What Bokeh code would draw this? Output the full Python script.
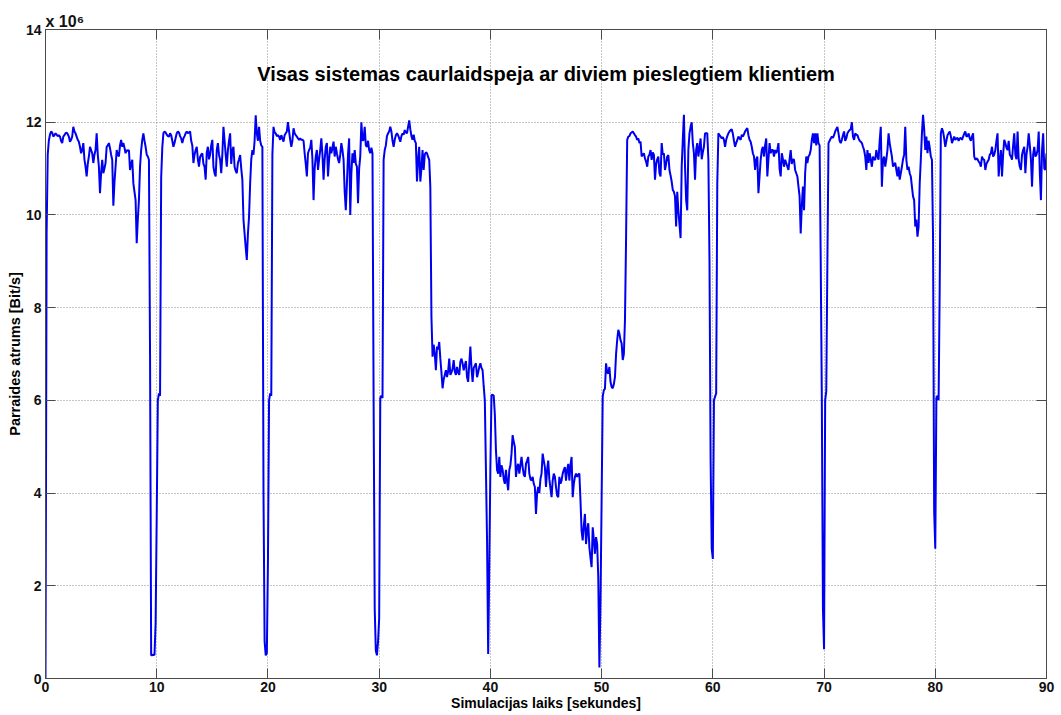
import numpy as np
from bokeh.plotting import figure
from bokeh.models import Range1d, LinearAxis, Label, FixedTicker, ColumnDataSource, Title
from bokeh.embed import file_html
from bokeh.resources import INLINE

# Aggregate throughput of the system, sampled every 0.1 s (values in units of 10^6 bit/s).
SAMPLE_PERIOD = 0.1

cycle_00 = [
    0.0, 9.6, 11.3, 11.6, 11.73, 11.8, 11.78, 11.69, 11.72, 11.76,
    11.73, 11.7, 11.72, 11.69, 11.6, 11.55, 11.69, 11.72, 11.76, 11.78,
    11.74, 11.69, 11.58, 11.62, 11.69, 11.9, 11.8, 11.76, 11.69, 11.62,
    11.58, 11.47, 11.33, 11.4, 11.55, 11.2, 11.04, 10.83, 11.1, 11.26,
    11.47, 11.4, 11.33, 11.12, 11.3, 11.4, 11.76, 11.3, 11.04, 10.47,
    10.9, 11.19, 10.9, 11.0, 11.12, 11.47, 11.5, 11.55, 11.44, 11.3,
    11.19, 10.2, 10.7, 11.04, 11.4, 11.3, 11.26, 11.5, 11.62, 11.47,
    11.55, 11.45, 11.33, 11.4, 11.38, 11.4, 10.97, 11.1, 11.19, 10.68,
    10.5, 10.32, 9.39, 9.9, 10.32, 11.04, 11.4, 11.62, 11.76, 11.6,
    11.47, 11.3, 11.26, 11.19, 7.0, 0.5, 0.5, 0.52, 0.5, 1.2,
]
cycle_10 = [
    3.5, 6.0, 6.15, 6.1, 10.8, 11.45, 11.76, 11.8, 11.78, 11.73,
    11.7, 11.69, 11.76, 11.72, 11.6, 11.47, 11.55, 11.66, 11.76, 11.8,
    11.78, 11.7, 11.65, 11.55, 11.65, 11.7, 11.76, 11.8, 11.76, 11.78,
    11.8, 11.6, 11.5, 11.12, 11.3, 11.4, 11.47, 11.2, 11.04, 11.25,
    11.3, 11.33, 11.1, 11.04, 10.76, 11.35, 11.47, 11.2, 11.3, 11.5,
    11.62, 11.04, 10.9, 10.83, 11.4, 11.55, 11.3, 11.19, 10.9, 11.3,
    11.9, 11.6, 11.3, 11.04, 11.4, 11.6, 11.76, 11.1, 11.4, 11.47,
    11.04, 10.95, 10.9, 11.12, 11.2, 11.29, 11.0, 10.76, 9.9, 9.6,
    9.3, 9.03, 9.6, 9.96, 10.68, 11.2, 11.4, 11.3, 11.6, 12.15,
    11.76, 11.6, 11.9, 11.6, 11.5, 11.47, 4.0, 0.8, 0.5, 0.55,
]
cycle_20 = [
    2.5, 6.0, 6.15, 6.1, 11.3, 11.9, 11.78, 11.76, 11.7, 11.72,
    11.69, 11.62, 11.72, 11.65, 11.58, 11.72, 11.76, 11.8, 12.0, 11.8,
    11.62, 11.47, 11.6, 11.87, 11.76, 11.72, 11.69, 11.65, 11.62, 11.65,
    11.62, 11.62, 11.6, 11.33, 11.1, 10.83, 11.33, 11.4, 11.45, 11.62,
    11.2, 10.32, 11.0, 11.26, 11.4, 10.97, 11.2, 11.4, 11.65, 11.3,
    10.76, 11.2, 11.47, 11.55, 10.83, 11.2, 11.47, 11.33, 11.45, 11.58,
    11.26, 11.47, 11.33, 11.2, 11.12, 11.3, 11.55, 11.4, 11.19, 10.5,
    10.1, 10.68, 11.3, 11.65, 10.0, 10.9, 11.33, 11.12, 11.4, 11.1,
    11.04, 10.25, 11.0, 11.26, 12.0, 11.6, 11.62, 11.9, 11.5, 11.47,
    11.6, 11.4, 11.33, 11.45, 11.33, 6.0, 1.5, 0.6, 0.5, 0.8,
]
cycle_30 = [
    1.3, 6.05, 6.1, 6.05, 11.19, 11.4, 11.5, 11.7, 11.76, 11.8,
    11.9, 11.8, 11.6, 11.47, 11.62, 11.72, 11.76, 11.72, 11.65, 11.58,
    11.7, 11.76, 11.73, 11.83, 11.78, 11.76, 11.9, 12.04, 11.85, 11.7,
    11.62, 11.73, 11.6, 11.55, 10.72, 11.2, 11.47, 10.72, 11.0, 11.4,
    10.97, 11.3, 11.35, 11.33, 11.25, 11.19, 10.6, 7.8, 6.94, 7.2,
    7.0, 6.65, 7.16, 7.1, 7.26, 6.9, 6.6, 6.26, 6.45, 6.55,
    6.65, 6.5, 6.62, 6.9, 6.55, 6.6, 6.68, 6.87, 6.62, 6.55,
    6.72, 6.6, 6.55, 6.83, 6.9, 6.8, 6.65, 6.75, 6.85, 6.5,
    6.4, 6.78, 7.16, 6.7, 6.4, 6.7, 6.75, 6.8, 6.5, 6.6,
    6.72, 6.8, 6.7, 6.65, 6.3, 6.0, 4.5, 2.98, 0.53, 2.4,
]
cycle_40 = [
    4.56, 6.11, 6.12, 6.1, 5.7, 4.92, 4.5, 4.42, 4.78, 4.35,
    4.6, 4.5, 4.3, 4.2, 4.5, 4.25, 4.06, 4.5, 4.6, 4.85,
    5.25, 5.1, 5.0, 4.35, 4.55, 4.63, 4.42, 4.6, 4.78, 4.56,
    4.4, 4.35, 4.63, 4.7, 4.78, 4.42, 4.3, 4.27, 4.35, 4.2,
    4.13, 3.55, 4.0, 4.13, 4.0, 4.3, 4.42, 4.85, 4.7, 4.56,
    4.13, 4.5, 4.7, 4.3, 4.1, 3.91, 4.27, 4.42, 4.35, 4.13,
    3.95, 3.91, 4.35, 4.2, 4.27, 4.42, 4.5, 4.56, 4.27, 4.5,
    4.63, 4.27, 4.6, 4.78, 3.91, 4.2, 4.35, 4.42, 4.35, 4.4,
    4.42, 3.84, 3.19, 2.98, 3.3, 3.55, 2.9, 3.2, 3.35, 2.83,
    2.6, 2.4, 3.26, 3.0, 2.69, 3.05, 2.9, 2.18, 0.24, 1.68,
]
cycle_50 = [
    3.84, 6.08, 6.22, 6.25, 6.8, 6.6, 6.58, 6.72, 6.4, 6.29,
    6.26, 6.35, 6.5, 7.0, 7.3, 7.52, 7.44, 7.3, 7.23, 6.87,
    7.0, 7.73, 9.5, 11.62, 11.69, 11.7, 11.76, 11.78, 11.8, 11.76,
    11.72, 11.69, 11.62, 11.65, 11.55, 11.58, 11.26, 11.3, 11.33, 11.22,
    11.15, 11.04, 11.26, 11.3, 11.4, 11.19, 11.35, 11.3, 10.76, 11.1,
    11.2, 11.26, 10.9, 10.83, 11.55, 11.3, 11.33, 10.97, 11.1, 11.26,
    11.29, 10.97, 10.85, 10.72, 10.54, 10.5, 10.4, 9.75, 10.5, 10.1,
    9.8, 9.5, 11.04, 11.62, 12.16, 11.04, 10.32, 10.1, 11.4, 11.76,
    11.9, 12.0, 11.55, 11.33, 10.76, 11.4, 11.55, 11.26, 11.45, 11.65,
    11.2, 11.35, 11.47, 11.76, 11.76, 11.76, 11.19, 9.0, 4.7, 2.8,
]
cycle_60 = [
    2.58, 6.0, 6.08, 6.15, 10.68, 11.76, 11.72, 11.69, 11.65, 11.68,
    11.62, 11.47, 11.62, 11.7, 11.76, 11.8, 11.83, 11.85, 11.75, 11.6,
    11.47, 11.55, 11.62, 11.69, 11.65, 11.62, 11.73, 11.69, 11.74, 11.8,
    11.84, 11.87, 11.72, 11.62, 11.58, 11.47, 11.33, 11.26, 10.97, 11.2,
    11.26, 10.47, 10.83, 11.19, 11.4, 11.47, 11.26, 11.5, 11.65, 10.83,
    11.2, 11.55, 11.33, 11.4, 11.4, 11.26, 11.4, 11.33, 11.4, 11.55,
    11.0, 10.83, 11.33, 11.2, 11.04, 11.19, 11.12, 11.04, 10.97, 11.2,
    11.4, 11.1, 11.2, 11.19, 10.97, 10.9, 10.83, 10.61, 10.4, 9.6,
    10.2, 10.61, 10.1, 10.9, 11.26, 11.12, 11.26, 11.3, 11.4, 11.62,
    11.76, 11.55, 11.76, 11.5, 11.76, 11.55, 11.5, 9.0, 6.0, 1.5,
]
cycle_70 = [
    0.63, 6.0, 6.2, 9.0, 11.55, 11.6, 11.65, 11.69, 11.66, 11.72,
    11.8, 11.85, 11.9, 11.76, 11.6, 11.55, 11.62, 11.72, 11.8, 11.6,
    11.65, 11.76, 11.8, 11.83, 11.85, 12.0, 11.69, 11.62, 11.76, 11.73,
    11.72, 11.65, 11.6, 11.58, 11.55, 11.47, 11.4, 11.26, 10.97, 11.4,
    11.12, 11.33, 11.19, 11.04, 11.26, 11.2, 11.19, 11.4, 11.26, 11.19,
    11.6, 11.9, 10.61, 11.19, 11.26, 11.04, 11.2, 11.4, 11.76, 11.55,
    11.4, 11.26, 11.04, 11.1, 11.12, 10.97, 10.83, 11.04, 10.76, 10.9,
    11.04, 11.2, 11.3, 11.9, 11.19, 10.97, 11.04, 10.9, 10.83, 10.61,
    10.4, 10.32, 9.75, 9.9, 9.53, 9.75, 10.68, 11.19, 11.76, 12.16,
    11.85, 11.4, 11.69, 11.33, 11.6, 11.45, 11.26, 11.19, 9.5, 3.6,
]
cycle_80 = [
    2.8, 6.05, 6.1, 6.0, 8.5, 11.76, 11.87, 11.8, 11.65, 11.47,
    11.6, 11.72, 11.76, 11.8, 11.7, 11.55, 11.62, 11.69, 11.62, 11.65,
    11.66, 11.6, 11.65, 11.66, 11.62, 11.69, 11.75, 11.8, 11.69, 11.7,
    11.76, 11.65, 11.6, 11.69, 11.76, 11.26, 11.19, 11.22, 11.2, 11.15,
    11.12, 11.04, 11.26, 11.2, 11.19, 10.97, 11.1, 11.15, 11.19, 11.3,
    11.33, 11.47, 11.26, 11.3, 11.4, 11.6, 11.76, 10.83, 11.2, 11.4,
    10.83, 11.3, 11.62, 11.55, 11.45, 11.4, 11.6, 11.3, 11.26, 11.19,
    11.5, 11.76, 11.3, 11.2, 11.8, 11.19, 11.04, 10.97, 11.3, 11.4,
    11.47, 10.9, 11.3, 11.47, 11.76, 11.5, 11.2, 10.61, 11.3, 11.47,
    11.26, 11.3, 11.4, 11.8, 10.9, 10.32, 11.4, 11.76, 11.0, 10.97,
]
final_sample = (90.0, 11.33)

cycles = [
    (0, cycle_00), (10, cycle_10), (20, cycle_20), (30, cycle_30), (40, cycle_40),
    (50, cycle_50), (60, cycle_60), (70, cycle_70), (80, cycle_80),
]

x_ticks = [0, 10, 20, 30, 40, 50, 60, 70, 80, 90]
y_ticks = [0, 2, 4, 6, 8, 10, 12, 14]

title_text = "Visas sistemas caurlaidspeja ar diviem pieslegtiem klientiem"
x_label_text = "Simulacijas laiks [sekundes]"
y_label_text = "Parraides atrums [Bit/s]"
y_scale_text = "x 10\u2076"

times, rates = [], []
for start, values in cycles:
    for i, val in enumerate(values):
        times.append(round(start + i * SAMPLE_PERIOD, 2))
        rates.append(val)
times.append(final_sample[0])
rates.append(final_sample[1])

source = ColumnDataSource(data=dict(t=times, rate=rates))

FONT = "Liberation Sans"
AXIS_GREY = "#4a4a4a"

p = figure(
    width=1061, height=715,
    x_range=Range1d(0, 90), y_range=Range1d(0, 14),
    output_backend="svg", toolbar_location=None,
    min_border_left=45, min_border_right=15,
    min_border_top=29, min_border_bottom=37,
    background_fill_color="white", border_fill_color="white",
)
p.outline_line_color = AXIS_GREY
p.outline_line_width = 1

def style_axis(ax, show_labels=True):
    ax.axis_line_color = AXIS_GREY
    ax.major_tick_line_color = AXIS_GREY
    ax.major_tick_in = 10
    ax.major_tick_out = 0
    ax.minor_tick_line_color = None
    ax.major_label_text_font = FONT
    ax.major_label_text_font_style = "bold"
    ax.major_label_text_font_size = "14px"
    ax.major_label_text_color = "#111111"
    ax.axis_label_text_font = FONT
    ax.axis_label_text_font_style = "bold"
    ax.axis_label_text_font_size = "14px"
    ax.axis_label_text_color = "#000000"
    if not show_labels:
        ax.major_label_text_alpha = 0
        ax.major_label_text_font_size = "1px"
        ax.major_label_standoff = 0

p.xaxis.ticker = FixedTicker(ticks=x_ticks)
p.yaxis.ticker = FixedTicker(ticks=y_ticks)
style_axis(p.xaxis[0])
style_axis(p.yaxis[0])
p.xaxis.major_label_standoff = 3
p.yaxis.major_label_standoff = 4
p.xaxis.axis_label = x_label_text
p.yaxis.axis_label = y_label_text
p.yaxis.axis_label_text_font_size = "14.5px"
p.xaxis.axis_label_standoff = 0
p.yaxis.axis_label_standoff = 0

right_axis = LinearAxis(ticker=FixedTicker(ticks=y_ticks))
top_axis = LinearAxis(ticker=FixedTicker(ticks=x_ticks))
style_axis(right_axis, show_labels=False)
style_axis(top_axis, show_labels=False)
p.add_layout(right_axis, "right")

# exponent marker for the y axis, left-aligned above the frame
scale_title = Title(text=y_scale_text, align="left", text_font=FONT,
                    text_font_style="bold", text_font_size="16px",
                    text_color="#111111", standoff=0, offset=0)
p.title.visible = False
p.above = [top_axis, scale_title]

p.xgrid.ticker = FixedTicker(ticks=x_ticks)
p.ygrid.ticker = FixedTicker(ticks=y_ticks)
for g in (p.xgrid[0], p.ygrid[0]):
    g.grid_line_color = "#8f8f8f"
    g.grid_line_dash = "1 2"
    g.grid_line_width = 1

p.line("t", "rate", source=source, line_color="#0000f0", line_width=2)

p.add_layout(Label(x=45, y=13.03, text=title_text, text_align="center",
                   text_baseline="middle", text_font=FONT, text_font_style="bold",
                   text_font_size="20px", text_color="#000000"))

open("out.html", "w").write(file_html(p, INLINE))
